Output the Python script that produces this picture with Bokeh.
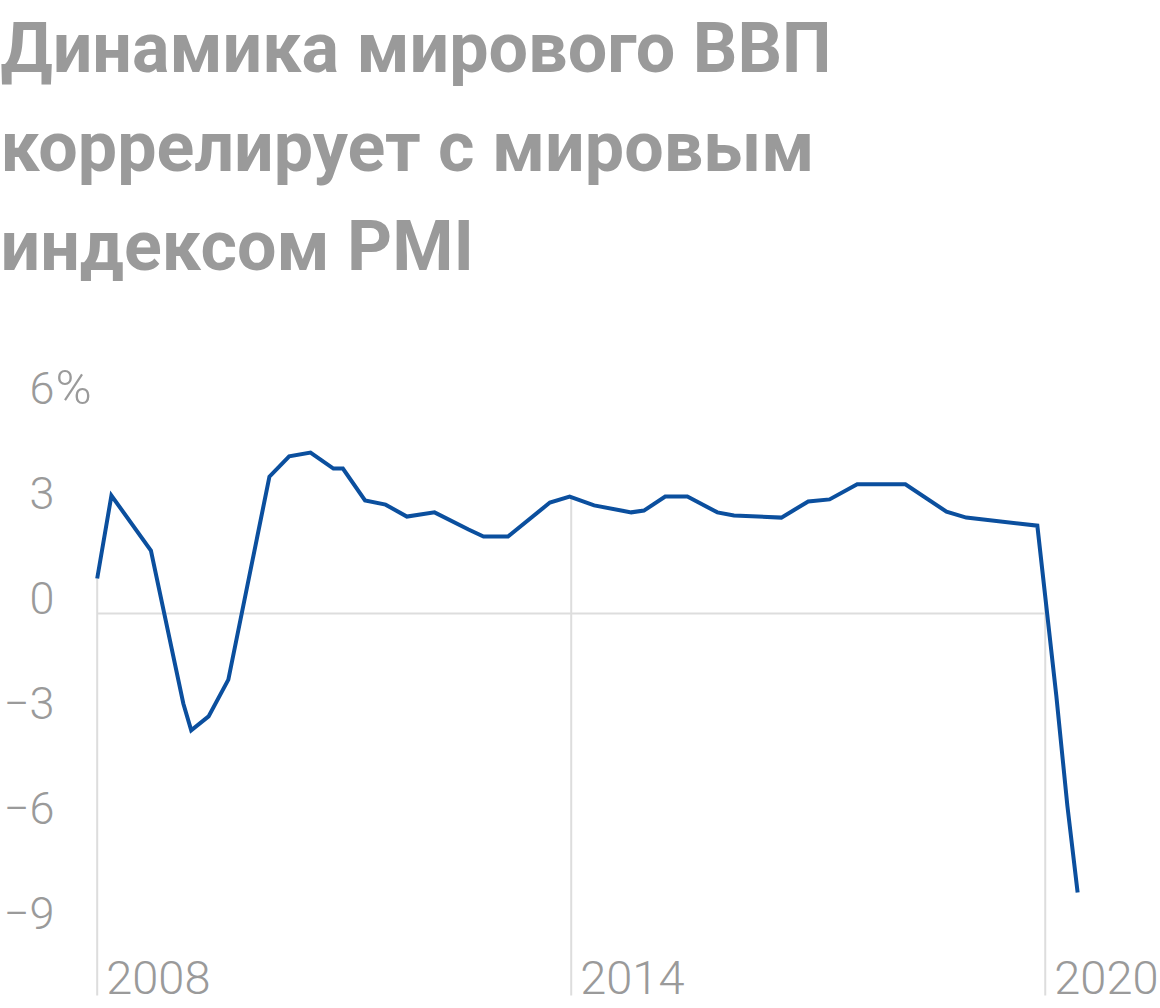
import numpy as np
from bokeh.plotting import figure
from bokeh.models import ColumnDataSource, Label, LabelSet, Range1d
from bokeh.core.properties import value
from bokeh.embed import file_html
from bokeh.resources import INLINE

title_lines = ["Динамика мирового ВВП", "коррелирует с мировым", "индексом PMI"]

# world GDP growth, % y/y
years = [2008.00, 2008.18, 2008.68, 2009.09, 2009.19, 2009.41, 2009.66, 2010.18,
         2010.43, 2010.70, 2010.99, 2011.11, 2011.39, 2011.65, 2011.92, 2012.27,
         2012.70, 2012.89, 2013.20, 2013.73, 2013.98, 2014.29, 2014.76, 2014.92,
         2015.19, 2015.47, 2015.85, 2016.06, 2016.66, 2017.00, 2017.27, 2017.62,
         2018.23, 2018.75, 2019.00, 2019.90, 2020.14, 2020.28, 2020.41]
gdp = [1.00, 3.37, 1.80, -2.57, -3.34, -2.94, -1.89, 3.91,
       4.49, 4.60, 4.14, 4.14, 3.23, 3.11, 2.77, 2.89,
       2.40, 2.20, 2.20, 3.17, 3.34, 3.09, 2.89, 2.94,
       3.34, 3.34, 2.89, 2.80, 2.74, 3.20, 3.26, 3.69,
       3.69, 2.91, 2.74, 2.51, -2.34, -5.49, -7.97]

y_ticks = [6, 3, 0, -3, -6, -9]
y_tick_labels = ["6", "3", "0", "−3", "−6", "−9"]
x_ticks = [2008, 2014, 2020]
x_tick_labels = ["2008", "2014", "2020"]

GREY = "#9a9a9a"
GRID = "#dddddd"
BLUE = "#0b4f9e"
TICK_FONT = "Roboto Light"

p = figure(width=1160, height=1004,
           x_range=Range1d(2006.776, 2021.459), y_range=Range1d(-11.171, 17.514),
           x_axis_location=None, y_axis_location=None,
           toolbar_location=None, output_backend="svg", min_border=0)
p.grid.visible = False
p.outline_line_color = None

# drop lines from the curve down to the bottom at the labelled years
tops = np.interp(x_ticks, years, gdp)
p.segment(x0=x_ticks, y0=[-10.914] * len(x_ticks), x1=x_ticks, y1=tops,
          line_color=GRID, line_width=2)
p.segment(x0=[x_ticks[0]], y0=[0], x1=[x_ticks[-1]], y1=[0],
          line_color=GRID, line_width=2)

p.line(years, gdp, line_color=BLUE, line_width=4, line_join="miter")

# y tick labels
ysrc = ColumnDataSource(dict(y=y_ticks, text=y_tick_labels))
p.add_layout(LabelSet(x=54, y="y", text="text", source=ysrc, x_units="screen",
                      text_align="right", text_baseline="alphabetic",
                      text_font=value(TICK_FONT), text_font_size="45px",
                      text_color=GREY))
psrc = ColumnDataSource(dict(y=[y_ticks[0]], text=["%"]))
p.add_layout(LabelSet(x=55, y="y", text="text", source=psrc, x_units="screen",
                      text_align="left", text_baseline="alphabetic",
                      text_font=value(TICK_FONT), text_font_size="49px",
                      text_color=GREY))

# x tick labels
xsrc = ColumnDataSource(dict(x=x_ticks, y=[11] * len(x_ticks), text=x_tick_labels))
p.add_layout(LabelSet(x="x", y="y", text="text", source=xsrc, y_units="screen",
                      x_offset=9, text_align="left", text_baseline="alphabetic",
                      text_font=value(TICK_FONT), text_font_size="47px",
                      text_color=GREY))

# title
for i, line in enumerate(title_lines):
    p.add_layout(Label(x=0, y=957 - i * 99, x_units="screen", y_units="screen",
                       text=line, text_font="Roboto", text_font_style="bold",
                       text_font_size="70px", text_color=GREY,
                       text_baseline="alphabetic"))

open("out.html", "w").write(file_html(p, INLINE))
